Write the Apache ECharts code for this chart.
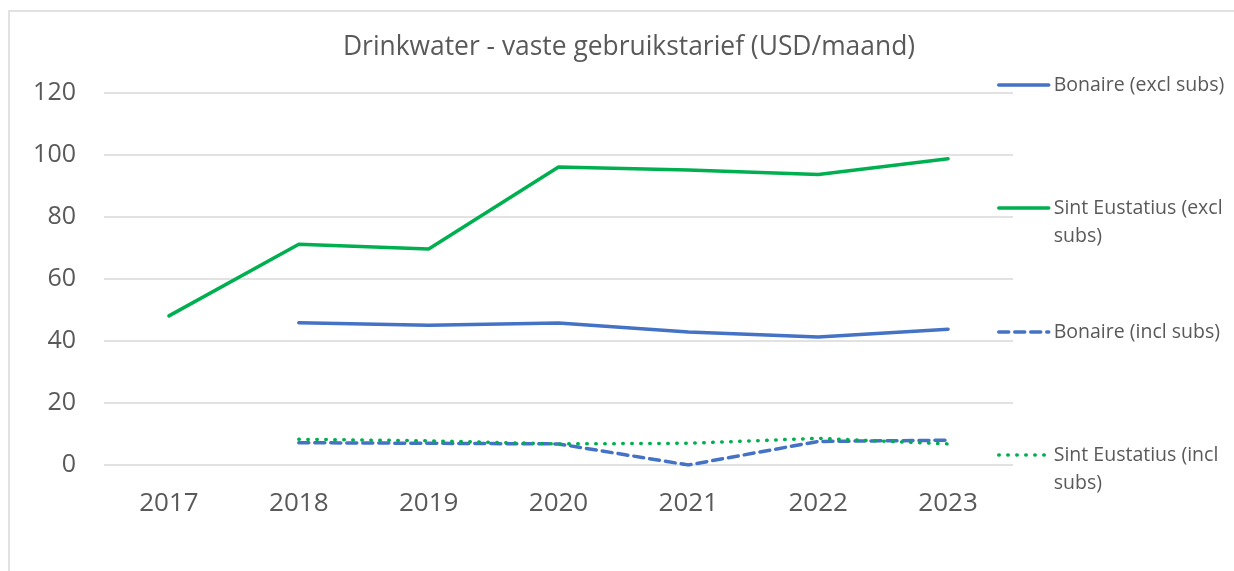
<!DOCTYPE html>
<html>
<head>
<meta charset="utf-8">
<script src="https://cdn.jsdelivr.net/npm/echarts@6/dist/echarts.min.js"></script>
<style>
  html, body { margin: 0; padding: 0; background: #ffffff; }
  #chart { width: 1234px; height: 571px; }
</style>
</head>
<body>
<div id="chart"></div>
<script>
// 데이터
const years = ['2017', '2018', '2019', '2020', '2021', '2022', '2023'];
const bonaireExcl = [null, 45.9, 45.1, 45.8, 42.9, 41.3, 43.8];
const statiaExcl = [48.1, 71.2, 69.7, 96.1, 95.2, 93.7, 98.8];
const bonaireIncl = [null, 7.2, 7.0, 6.8, 0, 7.6, 8.0];
const statiaIncl = [null, 8.3, 7.8, 6.8, 7.0, 8.6, 6.8];
const seriesNames = [
  'Bonaire (excl subs)',
  'Sint Eustatius (excl subs)',
  'Bonaire (incl subs)',
  'Sint Eustatius (incl subs)'
];
// 두 줄 항목은 앞에 빈 줄을 넣어 아이콘이 첫 줄에 맞도록 함
const legendLabels = [
  'Bonaire (excl subs)',
  '\nSint Eustatius (excl\nsubs)',
  'Bonaire (incl subs)',
  '\nSint Eustatius (incl\nsubs)'
];

const blue = '#4472C4';
const green = '#00B050';
const textColor = '#595959';
const font = '"Open Sans", sans-serif';

const lineStyles = [
  { color: blue, width: 3.5, cap: 'round' },
  { color: green, width: 3.5, cap: 'round' },
  { color: blue, width: 3.5, type: [10, 6], cap: 'round' },
  { color: green, width: 3.5, type: [0.5, 8.5], cap: 'round' }
];

const chartRef = document.getElementById('chart');
const myChart = echarts.init(chartRef);

// 범례 위치 (각 항목 따로)
const legendTops = [71, 166, 318, 413];
const legends = seriesNames.map((name, i) => ({
  data: [name],
  left: 997,
  top: legendTops[i],
  padding: 0,
  itemWidth: 50,
  itemHeight: 12,
  itemGap: 0,
  selectedMode: false,
  formatter: () => legendLabels[i],
  itemStyle: { opacity: 0 },
  lineStyle: lineStyles[i],
  textStyle: {
    color: textColor,
    fontFamily: font,
    fontSize: 19.5,
    lineHeight: 28
  }
}));

const option = {
  animation: false,
  title: {
    text: 'Drinkwater - vaste gebruikstarief (USD/maand)',
    left: 624,
    textAlign: 'center',
    top: 29,
    textStyle: {
      color: textColor,
      fontFamily: font,
      fontSize: 26.4,
      fontWeight: 'normal'
    }
  },
  legend: legends,
  grid: {
    left: 104,
    right: 221,
    top: 93,
    bottom: 106
  },
  xAxis: {
    type: 'category',
    data: years,
    boundaryGap: true,
    axisLine: { show: false },
    axisTick: { show: false },
    axisLabel: {
      color: textColor,
      fontFamily: font,
      fontSize: 26,
      margin: 26
    }
  },
  yAxis: {
    type: 'value',
    min: 0,
    max: 120,
    interval: 20,
    axisLine: { show: false },
    axisTick: { show: false },
    axisLabel: {
      color: textColor,
      fontFamily: font,
      fontSize: 25,
      margin: 28
    },
    splitLine: {
      lineStyle: { color: '#d9d9d9', width: 1.5 }
    }
  },
  series: [
    { name: seriesNames[0], data: bonaireExcl },
    { name: seriesNames[1], data: statiaExcl },
    { name: seriesNames[2], data: bonaireIncl },
    { name: seriesNames[3], data: statiaIncl }
  ].map((s, i) => ({
    name: s.name,
    type: 'line',
    data: s.data,
    symbol: 'none',
    lineStyle: lineStyles[i],
    itemStyle: { color: lineStyles[i].color }
  })),
  graphic: [
    {
      type: 'polyline',
      shape: { points: [[9, 571], [9, 11], [1234, 11]] },
      style: { fill: 'none', stroke: '#d9d9d9', lineWidth: 1.5 },
      silent: true,
      z: -10
    }
  ]
};

myChart.setOption(option);
</script>
</body>
</html>
